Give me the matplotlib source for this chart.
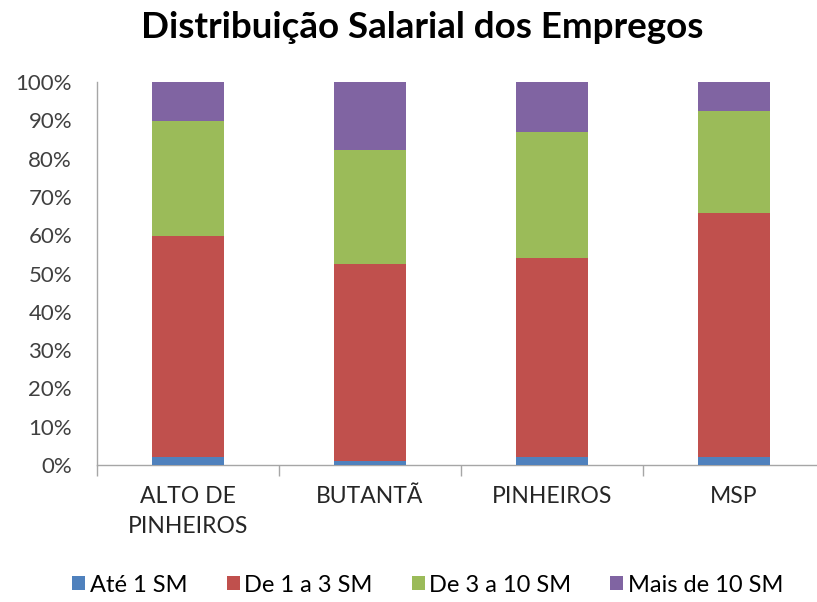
import matplotlib
matplotlib.use("Agg")
import matplotlib.pyplot as plt
import numpy as np
from matplotlib.ticker import FixedLocator, FuncFormatter

categories = ["ALTO DE\nPINHEIROS", "BUTANTÃ", "PINHEIROS", "MSP"]
series_names = ["Até 1 SM", "De 1 a 3 SM", "De 3 a 10 SM", "Mais de 10 SM"]
ate_1 = [2.1, 1.1, 2.1, 2.1]
de_1_a_3 = [57.7, 51.3, 51.9, 63.6]
de_3_a_10 = [30.0, 29.9, 33.0, 26.7]
mais_10 = [10.2, 17.7, 13.0, 7.6]
colors = ["#4F81BD", "#C0504D", "#9BBB59", "#8064A2"]

plt.rcParams['font.family'] = ['Lato', 'DejaVu Sans']

fig = plt.figure(figsize=(8.17, 6.02), dpi=100)
ax = fig.add_axes([97/817, 137/602, 728/817, 383/602])

x = np.arange(len(categories))
bottom = np.zeros(len(categories))
handles = []
for name, vals, c in zip(series_names, [ate_1, de_1_a_3, de_3_a_10, mais_10], colors):
    b = ax.bar(x, vals, 0.4, bottom=bottom, color=c, label=name, zorder=3)
    bottom += np.array(vals)
    handles.append(b)

ax.set_xlim(-0.5, 3.5)
ax.set_ylim(0, 100)
ax.set_yticks(np.arange(0, 101, 10))
ax.yaxis.set_major_formatter(FuncFormatter(lambda v, p: f"{int(v)}%"))
ax.tick_params(axis='y', length=0, labelsize=16, colors='#404040', pad=18)
ax.set_xticks(x)
ax.set_xticklabels(categories)
ax.tick_params(axis='x', length=0, labelsize=16.5, colors='#262626', pad=15)
ax.xaxis.set_minor_locator(FixedLocator([-0.5, 0.5, 1.5, 2.5]))
ax.tick_params(axis='x', which='minor', length=8, color='#A6A6A6', width=1)
for lab in ax.get_xticklabels():
    lab.set_linespacing(1.55)
    lab.set_verticalalignment('top')

for s in ['top', 'right']:
    ax.spines[s].set_visible(False)
for s in ['left', 'bottom']:
    ax.spines[s].set_color('#A6A6A6')
    ax.spines[s].set_linewidth(1)

fig.text(422/817, 1 - 28/602, "Distribuição Salarial dos Empregos", ha='center', va='center',
         fontsize=26.5, fontweight='bold', color='black')

fig.legend(handles=handles, labels=series_names, loc='center', ncol=4,
           bbox_to_anchor=(428/817, 1 - 585/602), frameon=False, fontsize=17,
           handlelength=0.55, handleheight=0.55, handletextpad=0.2, columnspacing=1.65)

fig.savefig("out.png", dpi=100)
